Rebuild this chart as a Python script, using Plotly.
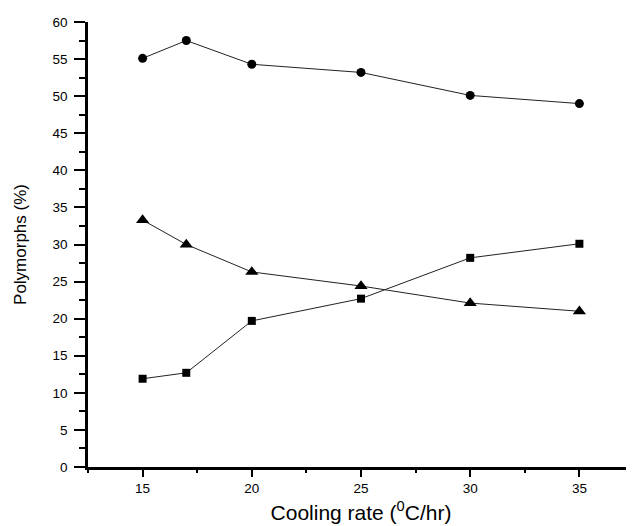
import plotly.graph_objects as go

cooling_rate = [15, 17, 20, 25, 30, 35]
circle_pct = [55.1, 57.5, 54.3, 53.2, 50.1, 49.0]
triangle_pct = [33.3, 30.0, 26.3, 24.4, 22.1, 21.0]
square_pct = [11.9, 12.7, 19.7, 22.7, 28.2, 30.1]

x_ticks = [15, 20, 25, 30, 35]
y_ticks = [0, 5, 10, 15, 20, 25, 30, 35, 40, 45, 50, 55, 60]

fig = go.Figure()
series = [
    (circle_pct, "circle", 9),
    (triangle_pct, "triangle-up", 11.5),
    (square_pct, "square", 8),
]
for vals, sym, sz in series:
    fig.add_trace(go.Scatter(
        x=cooling_rate, y=vals, mode="lines+markers",
        line=dict(color="#222222", width=1),
        marker=dict(symbol=sym, size=sz, color="black", line=dict(width=0)),
        showlegend=False,
    ))

font_family = "Liberation Sans, Arial, sans-serif"
# the page body adds an 8px offset, so the figure is 8px smaller on each axis
fig.update_layout(
    width=626, height=518,
    margin=dict(l=80, r=0, t=14, b=59),
    paper_bgcolor="white", plot_bgcolor="white",
    font=dict(family=font_family, color="black"),
)
fig.update_xaxes(
    range=[12.5, 37.5], tickvals=x_ticks,
    showgrid=False, zeroline=False,
    showline=True, linecolor="black", linewidth=2.5,
    ticks="outside", ticklen=7, tickwidth=2, tickcolor="black",
    tickfont=dict(size=13.5),
    ticklabelstandoff=0,
    minor=dict(dtick=2.5, tick0=12.5, ticks="outside", ticklen=3.5, tickwidth=2, tickcolor="black"),
    title=dict(text="Cooling rate (<sup>0</sup>C/hr)", font=dict(size=21), standoff=11),
)
fig.update_yaxes(
    range=[0, 60], tickvals=y_ticks,
    showgrid=False, zeroline=False,
    showline=True, linecolor="black", linewidth=2.5,
    ticks="outside", ticklen=11, tickwidth=2, tickcolor="black",
    tickfont=dict(size=13.5),
    ticklabelstandoff=4,
    minor=dict(dtick=2.5, ticks="outside", ticklen=6, tickwidth=2, tickcolor="black"),
    title=dict(text="Polymorphs (%)", font=dict(size=17), standoff=22),
)
fig.write_html("out.html")
